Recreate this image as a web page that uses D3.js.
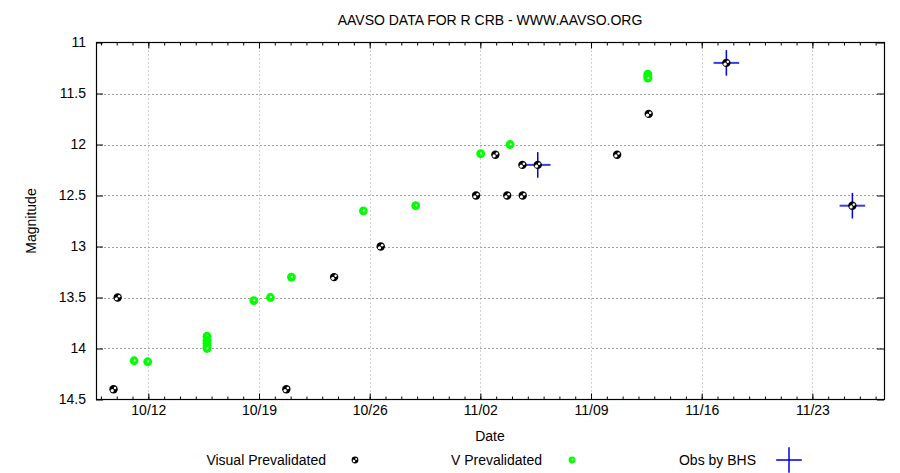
<!DOCTYPE html>
<html><head><meta charset="utf-8">
<script src="https://cdn.jsdelivr.net/npm/d3@7"></script>
<style>body{margin:0;background:#fff}svg{display:block}text{font-family:"Liberation Sans",Arial,sans-serif;fill:#000}</style>
</head><body>
<script>
// Data: day offsets from 2021-10-12 00:00 UTC, magnitudes
const visualDays = [-2.2, -1.94, 8.73, 11.75, 14.7, 20.73, 21.95, 22.7, 23.68, 23.66, 24.63, 29.65, 31.65, 36.56, 44.53];
const visualMags = [14.4, 13.5, 14.4, 13.3, 13.0, 12.5, 12.1, 12.5, 12.5, 12.2, 12.2, 12.1, 11.7, 11.2, 12.6];
const vDays = [-0.9, -0.04, 3.71, 3.71, 3.71, 3.71, 3.71, 6.67, 7.72, 9.05, 13.6, 16.91, 21.02, 22.88, 31.59, 31.59, 31.59];
const vMags = [14.12, 14.13, 13.88, 13.92, 13.95, 13.98, 14.0, 13.53, 13.5, 13.3, 12.65, 12.6, 12.09, 12.0, 11.31, 11.33, 11.35];
const bhsDays = [24.63, 36.56, 44.53];
const bhsMags = [12.2, 11.2, 12.6];
const xTickLabels = ["10/12", "10/19", "10/26", "11/02", "11/09", "11/16", "11/23"];
const yTicks = [11, 11.5, 12, 12.5, 13, 13.5, 14, 14.5];
const legendLabels = ["Visual Prevalidated", "V Prevalidated", "Obs by BHS"];

const W = 900, H = 473;
const m = {l: 96, r: 884, t: 42.5, b: 399.5};
const base = Date.UTC(2021, 9, 12);
const DAY = 864e5;
const toDate = d => new Date(base + d * DAY);
const FS = 14;

const svg = d3.select("body").append("svg").attr("width", W).attr("height", H);
const x = d3.scaleUtc().domain([toDate(-3.31), toDate(46.53)]).range([m.l, m.r]);
const y = d3.scaleLinear().domain([11, 14.5]).range([m.t, m.b]);

const majorDates = xTickLabels.map((s, i) => toDate(i * 7));
const minorDates = d3.utcDay.range(toDate(-3.31), toDate(46.53));

// grid
const g = svg.append("g");
g.selectAll(".gx").data(majorDates).enter().append("line")
  .attr("x1", d => Math.round(x(d)) + 0.5).attr("x2", d => Math.round(x(d)) + 0.5)
  .attr("y1", m.t).attr("y2", m.b)
  .attr("stroke", "#a0a0a0").attr("stroke-width", 1).attr("stroke-dasharray", "1,3");
g.selectAll(".gy").data(yTicks.slice(1, -1)).enter().append("line")
  .attr("y1", d => Math.round(y(d)) + 0.5).attr("y2", d => Math.round(y(d)) + 0.5)
  .attr("x1", m.l).attr("x2", m.r)
  .attr("stroke", "#a0a0a0").attr("stroke-width", 1).attr("stroke-dasharray", "2,2");

// axes
const fmt = d => xTickLabels[Math.round((d - base) / DAY / 7)];
const axB = d3.axisBottom(x).tickValues(majorDates).tickFormat(fmt).tickSize(6).tickPadding(6);
const axBm = d3.axisBottom(x).tickValues(minorDates).tickFormat("").tickSize(3);
const axT = d3.axisTop(x).tickValues(majorDates).tickFormat("").tickSize(6);
const axTm = d3.axisTop(x).tickValues(minorDates).tickFormat("").tickSize(3);
const axL = d3.axisLeft(y).tickValues(yTicks).tickFormat(d3.format("")).tickSize(7).tickPadding(6);
const axR = d3.axisRight(y).tickValues(yTicks).tickFormat("").tickSize(7);

function style(sel) {
  sel.select(".domain").remove();
  sel.selectAll("line").attr("stroke", "#000");
  sel.selectAll("text").attr("font-size", FS).attr("font-family", "Liberation Sans, Arial, sans-serif");
}
svg.append("g").attr("transform", `translate(0,${m.b})`).call(axB.tickSizeInner(-6)).call(style);
svg.append("g").attr("transform", `translate(0,${m.b})`).call(axBm.tickSizeInner(-3)).call(style);
svg.append("g").attr("transform", `translate(0,${m.t})`).call(axT.tickSizeInner(-6)).call(style);
svg.append("g").attr("transform", `translate(0,${m.t})`).call(axTm.tickSizeInner(-3)).call(style);
const gl = svg.append("g").attr("transform", `translate(${m.l},0)`).call(axL.tickSizeInner(-7)).call(style);
gl.selectAll("text").attr("x", -10);
svg.append("g").attr("transform", `translate(${m.r},0)`).call(axR.tickSizeInner(-7)).call(style);

svg.append("rect").attr("x", m.l + 0.5).attr("y", m.t).attr("width", m.r - m.l).attr("height", m.b - m.t)
  .attr("fill", "none").attr("stroke", "#000").attr("stroke-width", 1.2);

// markers
function blackMark(sel, r) {
  sel.append("circle").attr("r", r).attr("fill", "#000");
  sel.append("circle").attr("r", r * 0.38).attr("cx", -r * 0.3).attr("cy", r * 0.3).attr("fill", "#fff");
  sel.append("circle").attr("r", r * 0.3).attr("cx", r * 0.35).attr("cy", -r * 0.3).attr("fill", "#fff");
}
function greenMark(sel, r) {
  sel.append("circle").attr("r", r).attr("fill", "#00ff00");
  sel.append("circle").attr("r", r * 0.25).attr("cx", 0.5).attr("cy", -0.3).attr("fill", "#e8ffe8");
}
function cross(sel, s) {
  sel.append("line").attr("x1", -s).attr("x2", s).attr("stroke", "#3a3af0").attr("stroke-width", 2);
  sel.append("line").attr("y1", -s).attr("y2", s).attr("stroke", "#0000e8").attr("stroke-width", 1.5);
}

svg.append("g").selectAll("g").data(vDays.map((d, i) => [d, vMags[i]])).enter().append("g")
  .attr("transform", d => `translate(${x(toDate(d[0]))},${y(d[1])})`).each(function () { greenMark(d3.select(this), 4.4); });
svg.append("g").selectAll("g").data(bhsDays.map((d, i) => [d, bhsMags[i]])).enter().append("g")
  .attr("transform", d => `translate(${x(toDate(d[0]))},${y(d[1])})`).each(function () { cross(d3.select(this), 12.8); });
svg.append("g").selectAll("g").data(visualDays.map((d, i) => [d, visualMags[i]])).enter().append("g")
  .attr("transform", d => `translate(${x(toDate(d[0]))},${y(d[1])})`).each(function () { blackMark(d3.select(this), 4.2); });

// titles
svg.append("text").attr("x", 490).attr("y", 25).attr("text-anchor", "middle").attr("font-size", FS)
  .text("AAVSO DATA FOR R CRB - WWW.AAVSO.ORG");
svg.append("text").attr("x", 490).attr("y", 441).attr("text-anchor", "middle").attr("font-size", FS).text("Date");
svg.append("text").attr("transform", "translate(36,221) rotate(-90)").attr("text-anchor", "middle").attr("font-size", FS).text("Magnitude");

// legend
const lg = svg.append("g");
const lx = [326, 542, 756];
const mx = [355, 572, 789];
legendLabels.forEach((t, i) => {
  lg.append("text").attr("x", lx[i]).attr("y", 465).attr("text-anchor", "end").attr("font-size", FS).text(t);
});
blackMark(lg.append("g").attr("transform", `translate(${mx[0]},460)`), 3.4);
greenMark(lg.append("g").attr("transform", `translate(${mx[1]},460)`), 3.4);
cross(lg.append("g").attr("transform", `translate(${mx[2]},460)`), 12.8);
</script>
</body></html>
